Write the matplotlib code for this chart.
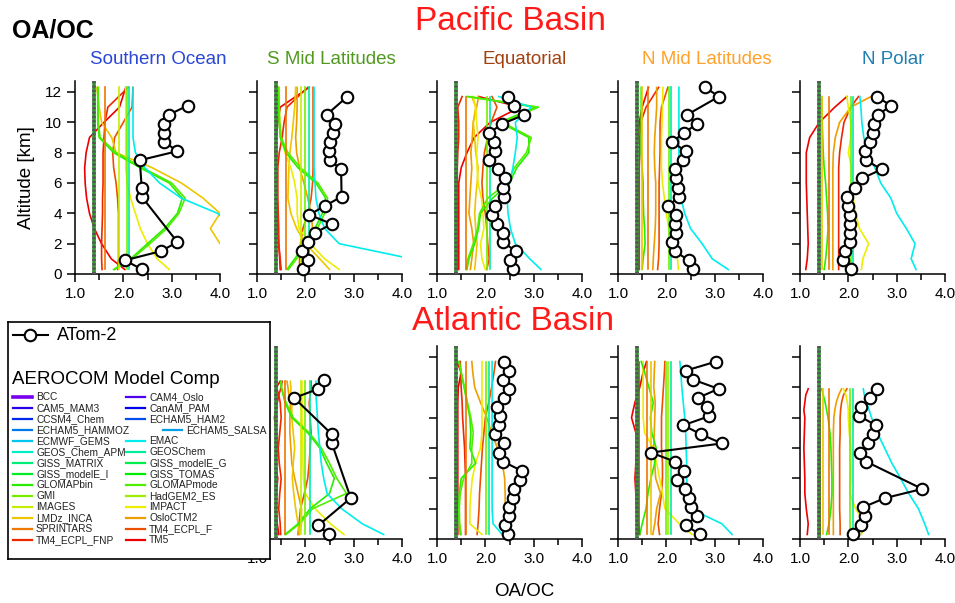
import numpy as np
import matplotlib.pyplot as plt
from matplotlib.colors import hsv_to_rgb

plt.rcParams['font.family'] = ['Liberation Sans', 'DejaVu Sans']

W, H = 955, 603

# AEROCOM models (legend order, purple -> red)
models = ['BCC', 'CAM4_Oslo', 'CAM5_MAM3', 'CanAM_PAM', 'CCSM4_Chem', 'ECHAM5_HAM2',
          'ECHAM5_HAMMOZ', 'ECHAM5_SALSA', 'ECMWF_GEMS', 'EMAC', 'GEOS_Chem_APM',
          'GEOSChem', 'GISS_MATRIX', 'GISS_modelE_G', 'GISS_modelE_I', 'GISS_TOMAS',
          'GLOMAPbin', 'GLOMAPmode', 'GMI', 'HadGEM2_ES', 'IMAGES', 'IMPACT',
          'LMDz_INCA', 'OsloCTM2', 'SPRINTARS', 'TM4_ECPL_F', 'TM4_ECPL_FNP', 'TM5']

regions = ['Southern Ocean', 'S Mid Latitudes', 'Equatorial', 'N Mid Latitudes', 'N Polar']
region_colors = ['#2b47d6', '#4f9a1e', '#a3400f', '#ffa12a', '#1f7fb0']
basins = ['Pacific Basin', 'Atlantic Basin']

ref_ratio = 1.4   # fixed OA/OC used by many models

# ATom-2 altitude bins (km)
obs_alt = [0.3, 0.9, 1.5, 2.1, 2.7, 3.3, 3.9, 4.5, 5.1, 5.7, 6.3, 6.9, 7.5, 8.1,
           8.7, 9.3, 9.9, 10.5, 11.1, 11.7, 12.3]
nan = np.nan

# ---- Pacific ----
pac_so_obs = [2.39, 2.03, 2.77, 3.12, nan, nan, nan, nan, 2.38, 2.38, nan, nan, 2.34,
              3.12, 2.85, 2.85, 2.85, 2.94, 3.33, nan, nan]
pac_sml_obs = [1.96, 2.06, 1.93, 2.05, 2.19, 2.55, 2.08, 2.41, 2.75, nan, nan, 2.74, 2.51,
               2.48, 2.50, 2.57, 2.61, 2.44, nan, 2.87, nan]
pac_eq_obs = [2.58, 2.51, 2.63, 2.37, 2.36, 2.24, 2.14, 2.20, 2.39, 2.36, 2.41, 2.27, 2.08,
              2.20, 2.18, 2.08, 2.35, 2.81, 2.59, 2.46, nan]
pac_nml_obs = [2.55, 2.46, 2.18, 2.11, 2.20, 2.18, 2.21, 2.04, 2.27, 2.24, 2.21, 2.18, 2.35,
               2.41, 2.11, 2.37, 2.63, 2.43, nan, 3.09, 2.80]
pac_np_obs = [2.06, 1.88, 1.94, 2.04, 2.04, 2.04, 2.04, 2.00, 1.97, 2.14, 2.28, 2.69, 2.36,
              2.35, 2.44, 2.50, 2.53, 2.62, 2.88, 2.59, nan]

# ---- Atlantic ----
atl_sml_obs = [2.48, 2.27, nan, nan, 2.94, nan, nan, nan, nan, nan, 2.55, 2.55, nan, nan,
               nan, 1.77, 2.27, 2.39, nan, nan, nan]
atl_eq_obs = [2.46, 2.41, 2.48, 2.48, 2.58, 2.59, 2.72, 2.75, 2.37, 2.29, 2.39, 2.20, 2.28,
              2.30, 2.25, 2.39, 2.48, 2.37, 2.48, 2.39, nan]
atl_nml_obs = [2.70, 2.40, 2.63, 2.50, 2.46, 2.39, 2.22, 2.37, 2.18, 1.68, 3.15, 2.72, 2.35,
               2.89, 2.85, 2.65, 3.08, 2.56, 2.40, 3.03, nan]
atl_np_obs = [2.10, 2.26, 2.35, 2.31, 2.76, 3.53, nan, nan, 2.37, 2.24, 2.41, 2.50, 2.57,
              2.23, 2.26, 2.45, 2.59, nan, nan, nan, nan]

# model levels (km)
lev_a = [0.3, 1, 2, 3, 4, 5, 6, 7, 8, 9, 10, 11, 12.3]
lev_b = [0.3, 1, 2, 3, 4, 5, 6, 7, 8, 9, 10, 11, 11.7]
lev_c = [0.3, 1, 2, 3, 4, 5, 6, 7, 8, 9, 9.5, 10, 10.4]
lev_d = [0.3, 1, 2, 3, 4, 5, 6, 7, 8, 8.5, 9, 9.5, 9.9]

pac_so_mod = {
    'TM5': [2.03, 1.75, 1.55, 1.4, 1.3, 1.24, 1.21, 1.2, 1.23, 1.3, 1.6, 1.92, 2.05],
    'TM4_ECPL_FNP': [1.56, 1.55, 1.55, 1.56, 1.57, 1.57, 1.58, 1.58, 1.58, 1.6, 1.62, 1.68, 2.1],
    'TM4_ECPL_F': [1.88, 1.9, 1.9, 1.9, 1.9, 1.88, 1.85, 1.8, 1.78, 1.82, 2.0, 2.18, 2.2],
    'LMDz_INCA': [nan, nan, 4.0, 3.8, 4.0, 3.65, 3.2, 2.6, 1.85, 1.76, 1.55, 1.5, 1.45],
    'IMPACT': [2.95, 2.7, 2.5, 2.35, 2.25, 2.15, 2.08, 2.05, 2.05, 2.05, 2.05, 2.05, 2.05],
    'GLOMAPbin': [1.8, 2.15, 2.5, 2.85, 3.12, 3.22, 2.95, 2.35, 1.8, 1.5, 1.47, 1.47, 1.47],
    'GLOMAPmode': [1.82, 2.18, 2.55, 2.9, 3.15, 3.28, 3.0, 2.4, 1.85, 1.52, 1.48, 1.48, 1.48],
    'EMAC': [5.5, 5.0, 4.6, 4.3, 3.95, 3.2, 2.75, 2.45, 2.25, 2.2, 2.2, 2.2, 2.2],
}
pac_so_flat = {'SPRINTARS': 1.63, 'IMAGES': 1.91, 'GMI': 2.07, 'GEOSChem': 2.12}

pac_sml_mod = {
    'TM5': [1.48, 1.47, 1.45, 1.43, 1.43, 1.42, 1.42, 1.42, 1.37, 1.4, 1.43, 1.48, 2.08],
    'TM4_ECPL_FNP': [1.5, 1.48, 1.45, 1.45, 1.44, 1.43, 1.43, 1.43, 1.46, 1.52, 1.56, 1.62, 2.05],
    'TM4_ECPL_F': [1.88, 1.88, 1.9, 1.95, 2.05, 2.12, 2.15, 2.16, 2.16, 2.16, 2.16, 2.16, 2.16],
    'OsloCTM2': [1.9, 1.93, 2.05, 2.15, 2.12, 2.05, 1.97, 1.88, 1.82, 1.8, 1.82, 1.83, 1.83],
    'LMDz_INCA': [2.5, 2.3, 2.0, 1.82, 1.7, 1.64, 1.65, 1.66, 1.68, 1.72, 1.75, 1.78, 1.8],
    'IMPACT': [2.7, 2.4, 2.1, 1.87, 1.83, 1.83, 1.78, 1.7, 1.58, 1.5, 1.47, 1.46, 1.46],
    'GLOMAPbin': [1.62, 1.78, 2.0, 2.2, 2.35, 2.42, 2.22, 1.85, 1.6, 1.48, 1.46, 1.45, 1.44],
    'GLOMAPmode': [1.65, 1.82, 2.05, 2.25, 2.4, 2.46, 2.26, 1.9, 1.64, 1.5, 1.47, 1.46, 1.45],
    'EMAC': [5.5, 4.2, 2.7, 2.4, 2.28, 2.22, 2.2, 2.18, 2.18, 2.18, 2.18, 2.18, 2.18],
}
pac_sml_flat = {'SPRINTARS': 1.6, 'IMAGES': 1.9, 'GMI': 2.0, 'GEOSChem': 2.08}

pac_eq_mod = {
    'TM5': [1.45, 1.45, 1.45, 1.45, 1.45, 1.45, 1.45, 1.5, 1.62, 1.77, 2.1, 2.72, 1.86],
    'TM4_ECPL_FNP': [1.42, 1.42, 1.42, 1.42, 1.42, 1.42, 1.42, 1.42, 1.43, 1.45, 1.45, 1.43, 1.52],
    'TM4_ECPL_F': [2.03, 2.08, 2.05, 2.03, 2.0, 1.95, 1.93, 1.95, 1.98, 2.05, 2.12, 2.24, 2.14],
    'OsloCTM2': [1.69, 1.72, 1.76, 1.72, 1.66, 1.68, 1.7, 1.72, 1.7, 1.73, 1.75, 1.82, 1.86],
    'LMDz_INCA': [1.78, 1.8, 1.83, 1.8, 1.78, 1.8, 1.83, 1.85, 1.8, 1.78, 1.75, 1.8, 1.72],
    'IMPACT': [2.0, 1.93, 1.9, 1.97, 1.95, 1.92, 1.85, 1.83, 1.82, 1.85, 1.82, 1.8, 1.75],
    'GLOMAPbin': [1.62, 1.66, 1.78, 1.86, 1.9, 2.15, 2.5, 2.65, 2.9, 2.9, 2.3, 3.05, 1.62],
    'GLOMAPmode': [1.6, 1.64, 1.75, 1.84, 1.88, 2.05, 2.45, 2.6, 2.85, 2.95, 2.35, 3.1, 1.65],
    'EMAC': [3.15, 2.92, 2.62, 2.52, 2.47, 2.45, 2.5, 2.57, 2.62, 2.66, 2.62, 2.95, 2.28],
}
pac_eq_flat = {'SPRINTARS': 1.61, 'GMI': 2.03, 'GEOSChem': 2.1}

pac_nml_mod = {
    'TM5': [1.42, 1.42, 1.41, 1.4, 1.4, 1.41, 1.42, 1.38, 1.37, 1.42, 1.44, 1.5, 1.63],
    'TM4_ECPL_FNP': [1.44, 1.44, 1.44, 1.44, 1.44, 1.44, 1.44, 1.44, 1.45, 1.45, 1.47, 1.58, 1.84],
    'TM4_ECPL_F': [1.82, 1.84, 1.85, 1.85, 1.85, 1.85, 1.85, 1.86, 1.87, 1.87, 1.87, 1.9, 2.03],
    'OsloCTM2': [1.72, 1.73, 1.75, 1.77, 1.78, 1.78, 1.78, 1.76, 1.75, 1.76, 1.78, 1.8, 1.8],
    'IMPACT': [2.25, 2.23, 2.15, 2.05, 2.0, 1.96, 1.92, 1.9, 1.9, 1.9, 1.91, 1.92, 1.93],
    'GLOMAPbin': [1.5, 1.52, 1.56, 1.55, 1.53, 1.52, 1.52, 1.5, 1.48, 1.48, 1.48, 1.48, 1.48],
    'EMAC': [3.28, 2.95, 2.74, 2.5, 2.38, 2.3, 2.27, 2.26, 2.26, 2.26, 2.26, 2.26, 2.26],
}
pac_nml_flat = {'LMDz_INCA': 1.5, 'SPRINTARS': 1.63, 'GMI': 2.06, 'GEOSChem': 2.09}

pac_np_mod = {
    'TM5': [1.12, 1.15, 1.17, 1.16, 1.15, 1.14, 1.13, 1.13, 1.13, 1.2, 1.4, 1.72, 1.97],
    'TM4_ECPL_FNP': [1.8, 1.8, 1.8, 1.8, 1.8, 1.8, 1.8, 1.8, 1.82, 1.86, 1.91, 2.05, 2.21],
    'OsloCTM2': [1.68, 1.68, 1.68, 1.68, 1.68, 1.68, 1.68, 1.68, 1.69, 1.73, 1.82, 2.05, 2.47],
    'IMPACT': [2.27, 2.3, 2.42, 2.23, 2.15, 2.1, 2.08, 2.07, 2.0, 2.05, 2.05, 2.0, 1.97],
    'GLOMAPbin': [1.5, 1.53, 1.56, 1.58, 1.57, 1.55, 1.53, 1.5, 1.48, 1.47, 1.46, 1.45, 1.45],
    'EMAC': [3.4, 3.3, 3.38, 3.2, 3.0, 2.88, 2.67, 2.55, 2.4, 2.32, 2.28, 2.26, 2.24],
}
pac_np_flat = {'LMDz_INCA': 1.45, 'SPRINTARS': 1.6, 'GMI': 2.06, 'GEOSChem': 2.09}

atl_sml_mod = {
    'TM5': [1.45, 1.42, 1.38, 1.4, 1.43, 1.38, 1.42, 1.4, 1.36, 1.42, 1.45, 1.4, 1.48],
    'TM4_ECPL_FNP': [1.49, 1.48, 1.45, 1.47, 1.5, 1.46, 1.44, 1.47, 1.5, 1.48, 1.45, 1.5, 1.52],
    'TM4_ECPL_F': [1.85, 1.87, 1.9, 1.98, 2.05, 2.08, 2.1, 2.12, 2.1, 2.08, 2.1, 2.12, 2.12],
    'OsloCTM2': [1.87, 1.92, 1.92, 1.85, 1.78, 1.72, 1.7, 1.68, 1.68, 1.69, 1.66, 1.64, 1.62],
    'LMDz_INCA': [1.88, 1.85, 1.8, 1.76, 1.73, 1.75, 1.78, 1.75, 1.72, 1.72, 1.7, 1.7, 1.69],
    'IMPACT': [2.8, 2.52, 2.2, 2.0, 1.96, 1.95, 1.95, 1.94, 1.93, 1.93, 1.93, 1.93, 1.93],
    'GLOMAPbin': [1.58, 1.85, 2.1, 2.5, 2.6, 2.44, 2.3, 2.05, 1.72, 1.58, 1.54, 1.5, 1.49],
    'GLOMAPmode': [1.6, 1.88, 2.15, 2.85, 2.65, 2.5, 2.33, 2.08, 1.75, 1.6, 1.55, 1.51, 1.5],
    'EMAC': [3.62, 3.18, 2.75, 2.45, 2.38, 2.33, 2.3, 2.27, 2.25, 2.23, 2.22, 2.22, 2.22],
}
atl_sml_flat = {'SPRINTARS': 1.57, 'IMAGES': 1.91, 'GMI': 2.0, 'GEOSChem': 2.09}

atl_eq_mod = {
    'TM5': [1.43, 1.43, 1.43, 1.43, 1.43, 1.43, 1.43, 1.43, 1.43, 1.43, 1.44, 1.5, 1.41],
    'TM4_ECPL_FNP': [1.59, 1.59, 1.59, 1.59, 1.59, 1.58, 1.57, 1.55, 1.53, 1.52, 1.5, 1.49, 1.48],
    'TM4_ECPL_F': [1.83, 1.85, 1.87, 1.88, 1.9, 1.92, 1.94, 1.97, 2.0, 2.07, 2.13, 2.18, 2.21],
    'OsloCTM2': [2.4, 2.4, 2.41, 2.41, 2.4, 2.35, 2.25, 2.13, 2.03, 1.9, 1.78, 1.74, 1.72],
    'IMPACT': [1.93, 1.68, 1.68, 1.7, 1.73, 1.8, 1.9, 1.93, 1.93, 1.93, 1.93, 1.93, 1.93],
    'GLOMAPbin': [1.48, 1.46, 1.45, 1.46, 1.5, 1.8, 1.68, 1.7, 1.68, 1.62, 1.56, 1.5, 1.45],
    'GLOMAPmode': [1.5, 1.47, 1.46, 1.48, 1.55, 1.72, 1.72, 1.75, 1.7, 1.63, 1.57, 1.5, 1.46],
    'EMAC': [2.35, 2.16, 2.14, 2.14, 2.14, 2.14, 2.14, 2.14, 2.14, 2.14, 2.14, 2.14, 2.14],
}
atl_eq_flat = {'SPRINTARS': 1.61, 'GMI': 2.01, 'GEOSChem': 2.08}

atl_nml_mod = {
    'TM5': [1.45, 1.42, 1.38, 1.37, 1.35, 1.37, 1.38, 1.37, 1.28, 1.35, 1.45, 1.52, 1.59],
    'TM4_ECPL_F': [1.86, 1.83, 1.86, 1.9, 1.92, 1.92, 1.9, 1.9, 1.9, 1.92, 1.94, 1.96, 1.97],
    'OsloCTM2': [1.72, 1.76, 1.8, 1.88, 1.78, 1.76, 1.74, 1.75, 1.76, 1.77, 1.74, 1.75, 1.76],
    'IMPACT': [2.53, 2.27, 1.97, 1.92, 1.86, 1.8, 1.73, 1.55, 1.52, 1.52, 1.52, 1.52, 1.52],
    'GLOMAPbin': [1.45, 1.5, 1.58, 1.62, 1.68, 1.76, 1.79, 1.7, 1.67, 1.73, 1.64, 1.55, 1.48],
    'EMAC': [3.36, 3.15, 2.5, 2.45, 2.42, 2.42, 2.41, 2.4, 2.38, 2.35, 2.32, 2.3, 2.28],
}
atl_nml_flat = {'TM4_ECPL_FNP': 1.43, 'SPRINTARS': 1.61, 'LMDz_INCA': 1.69, 'GMI': 2.0,
                'HadGEM2_ES': 2.04, 'GEOSChem': 2.1}

atl_np_mod = {
    'TM5': [1.15, 1.17, 1.13, 1.1, 1.1, 1.09, 1.08, 1.09, 1.1, 1.08, 1.1, 1.12, 1.17],
    'TM4_ECPL_F': [1.83, 1.83, 1.82, 1.82, 1.82, 1.82, 1.82, 1.83, 1.83, 1.84, 1.86, 1.9, 1.97],
    'OsloCTM2': [1.69, 1.69, 1.69, 1.69, 1.69, 1.69, 1.69, 1.69, 1.7, 1.72, 1.75, 1.8, 1.86],
    'IMPACT': [2.27, 2.35, 2.15, 2.03, 2.05, 2.05, 2.05, 2.02, 2.0, 2.0, 1.98, 1.95, 1.9],
    'GLOMAPbin': [1.55, 1.6, 1.64, 1.66, 1.66, 1.65, 1.64, 1.62, 1.58, 1.55, 1.52, 1.48, 1.45],
    'EMAC': [3.66, 3.58, 3.45, 3.25, 3.08, 2.9, 2.75, 2.6, 2.48, 2.43, 2.38, 2.33, 2.31],
}
atl_np_flat = {'TM4_ECPL_FNP': 1.41, 'LMDz_INCA': 1.47, 'SPRINTARS': 1.6, 'GMI': 2.04,
               'GEOSChem': 2.1}

# (row, col) -> (obs, model lines, flat models, levels); Atlantic Southern Ocean sits under legend
panels = {
    (0, 0): (pac_so_obs, pac_so_mod, pac_so_flat, lev_a),
    (0, 1): (pac_sml_obs, pac_sml_mod, pac_sml_flat, lev_a),
    (0, 2): (pac_eq_obs, pac_eq_mod, pac_eq_flat, lev_b),
    (0, 3): (pac_nml_obs, pac_nml_mod, pac_nml_flat, lev_a),
    (0, 4): (pac_np_obs, pac_np_mod, pac_np_flat, lev_b),
    (1, 1): (atl_sml_obs, atl_sml_mod, atl_sml_flat, lev_c),
    (1, 2): (atl_eq_obs, atl_eq_mod, atl_eq_flat, lev_b),
    (1, 3): (atl_nml_obs, atl_nml_mod, atl_nml_flat, lev_b),
    (1, 4): (atl_np_obs, atl_np_mod, atl_np_flat, lev_d),
}

# colour per model: hue sweep purple -> red
n = len(models)
model_col = {m: hsv_to_rgb([0.75 * (1 - i / (n - 1)), 1.0, 0.93]) for i, m in enumerate(models)}

fig = plt.figure(figsize=(W / 100, H / 100), dpi=100)

col_left = [75, 257, 437, 618, 800]
row_zero = [274, 539]
ax_w = 145
ytop = 12.7
ax_h = 182 * ytop / 12

for (r, c), (obs, mods, flats, lev) in panels.items():
    ax = fig.add_axes([col_left[c] / W, 1 - row_zero[r] / H, ax_w / W, ax_h / H])
    lev = np.array(lev)
    for name, xs in mods.items():
        ax.plot(xs, lev, color=model_col[name], lw=1.2, zorder=2)
    for name, v in flats.items():
        ax.plot([v, v], [lev[0], lev[-1]], color=model_col[name], lw=1.2, zorder=2)
    # models fixed at 1.4 (overlapping, drawn as a hatched bar)
    ax.plot([ref_ratio, ref_ratio], [0, ytop], color='#339933', lw=2.6, zorder=3)
    ax.plot([ref_ratio, ref_ratio], [0, ytop], color='#555555', lw=2.6,
            dashes=(0.6, 0.6), zorder=3)
    x = np.array(obs)
    m = np.isfinite(x)
    ax.plot(x[m], np.array(obs_alt)[m], '-o', color='black', lw=1.5, ms=8.3,
            mfc='white', mec='black', mew=1.5, zorder=5, clip_on=False)

    ax.set_xlim(1, 4)
    ax.set_ylim(0, ytop)
    for s in ['top', 'right']:
        ax.spines[s].set_visible(False)
    for s in ['left', 'bottom']:
        ax.spines[s].set_linewidth(1.1)
    ax.set_xticks([1, 2, 3, 4])
    ax.set_xticklabels(['1.0', '2.0', '3.0', '4.0'])
    ax.set_xticks([1.5, 2.5, 3.5], minor=True)
    ax.set_yticks(range(0, 13, 2))
    ax.tick_params(which='major', direction='out', length=5.5, width=1.1, labelsize=11, pad=4)
    ax.tick_params(which='minor', direction='out', length=4, width=1.1)
    if c == 0:
        ax.set_ylabel('Altitude [km]', fontsize=13.5, labelpad=7)
    else:
        ax.set_yticklabels([])

# titles
fig.text(12 / W, 1 - 30 / H, 'OA/OC', fontsize=18, fontweight='bold', va='center', ha='left')
fig.text(510 / W, 1 - 22 / H, basins[0], fontsize=24, color='#ff1a1a', ha='center', va='center')
fig.text(513 / W, 1 - 322 / H, basins[1], fontsize=24, color='#ff1a1a', ha='center', va='center')
title_x = [158, 331, 525, 707, 893]
for name, col, tx in zip(regions, region_colors, title_x):
    fig.text(tx / W, 1 - 60 / H, name, fontsize=13.5, color=col, ha='center', va='center')
fig.text(524 / W, 1 - 592 / H, 'OA/OC', fontsize=13.5, ha='center', va='center')

# legend box (pixel coords inside)
lg = fig.add_axes([8 / W, 1 - 559 / H, 262 / W, 237 / H], zorder=10)
lg.set_facecolor('white')
lg.set_xlim(0, 262)
lg.set_ylim(237, 0)
lg.set_xticks([])
lg.set_yticks([])
for s in lg.spines.values():
    s.set_linewidth(1.2)
lg.plot([5, 40], [13, 13], color='black', lw=1.5)
lg.plot([22], [13], 'o', ms=8.3, mfc='white', mec='black', mew=1.5)
lg.text(49, 13, 'ATom-2', fontsize=13, va='center', ha='left')
lg.text(4, 58, 'AEROCOM Model Comp', fontsize=13.5, va='center', ha='left')
for i, name in enumerate(models):
    row, col = i // 2, i % 2
    y = 75 + row * 11
    x0 = 5 if col == 0 else 118
    if name == 'ECHAM5_SALSA':
        x0 = 155
    lw = 2.6 if name == 'BCC' else 1.6
    lg.plot([x0, x0 + 19], [y, y], color=model_col[name], lw=lw)
    lg.text(x0 + 23, y, name, fontsize=7.3, va='center', ha='left', color='#222222')

fig.savefig('out.png', dpi=100)
